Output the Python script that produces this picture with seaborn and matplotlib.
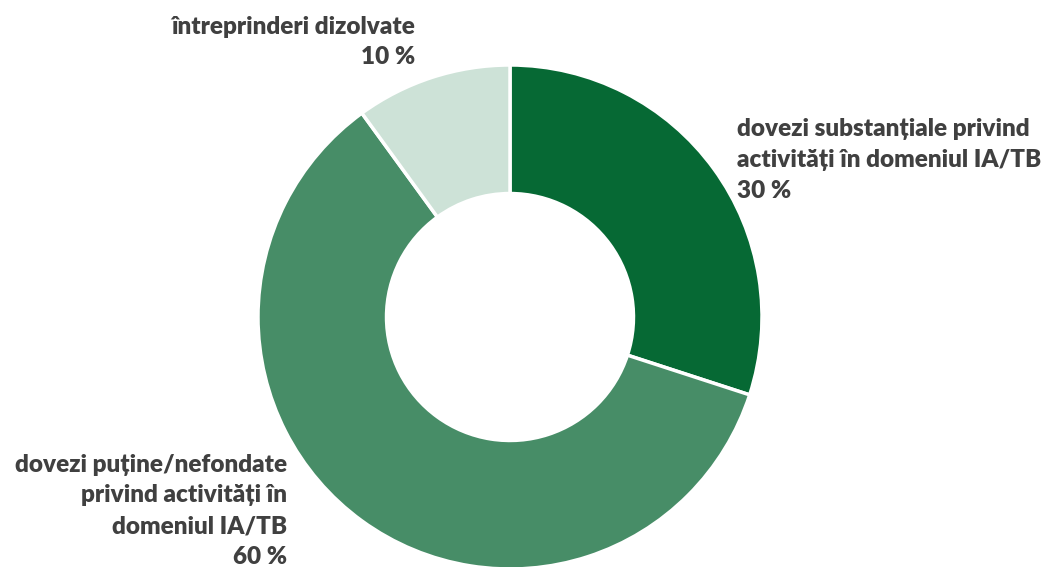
import matplotlib
matplotlib.use("Agg")
import matplotlib.pyplot as plt
import seaborn as sns

# chart data
categories = [
    "dovezi substanțiale privind\nactivități în domeniul IA/TB",
    "dovezi puține/nefondate\nprivind activități în\ndomeniul IA/TB",
    "întreprinderi dizolvate",
]
shares = [30, 60, 10]
colors = ["#066934", "#478D67", "#CDE2D7"]

sns.set_theme(style="white")
plt.rcParams["font.family"] = ["Lato", "DejaVu Sans"]

W, H = 1043, 567
fig = plt.figure(figsize=(W / 100, H / 100), dpi=100)
cx, cy, r = 510, 317, 252
ax = fig.add_axes([(cx - r) / W, (H - cy - r) / H, 2 * r / W, 2 * r / H])

ax.pie(shares, colors=colors, startangle=90, counterclock=False, radius=1,
       wedgeprops=dict(width=0.51, edgecolor="white", linewidth=2.5))
ax.set_xlim(-1, 1)
ax.set_ylim(-1, 1)
ax.set_aspect("equal")
ax.axis("off")

def to_data(px, py):
    return (px - cx) / r, (cy - py) / r

# label positions in pixels (anchor x, block centre y)
label_pos = [(737, 160, "left"), (287, 511, "right"), (415, 42, "right")]
for cat, val, (px, py, ha) in zip(categories, shares, label_pos):
    x, y = to_data(px, py)
    ax.text(x, y, f"{cat}\n{val} %", ha=ha, va="center", multialignment=ha,
            fontsize=17.5, fontweight="heavy", color="#404040",
            linespacing=1.5, clip_on=False)

fig.savefig("out.png", dpi=100)
